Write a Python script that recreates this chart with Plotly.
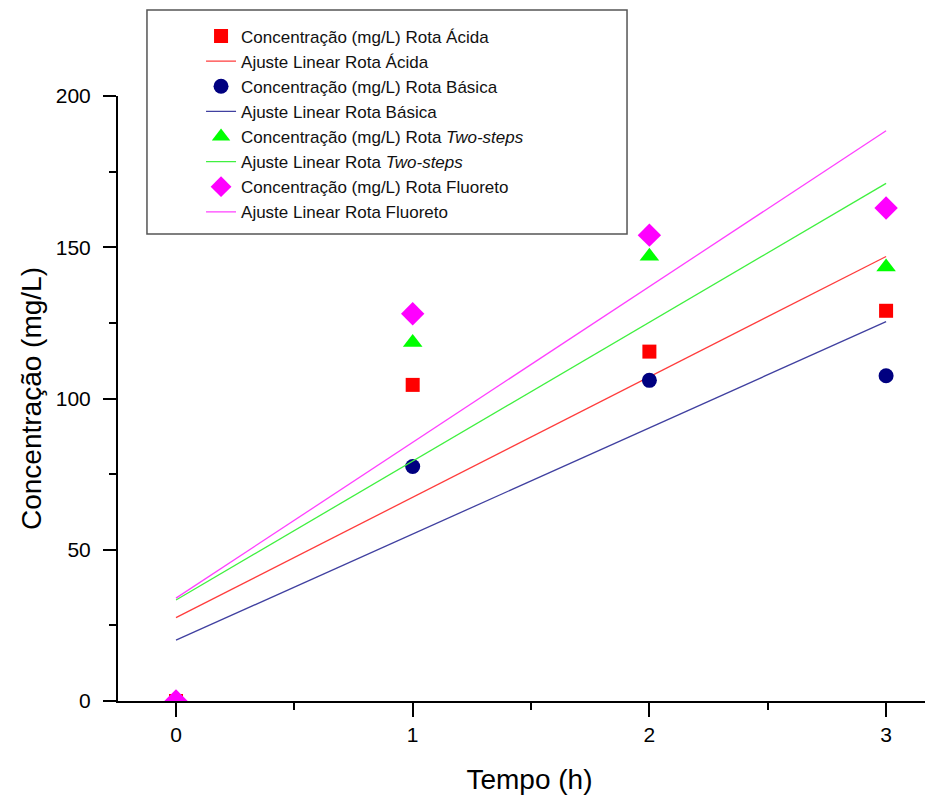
import numpy as np
import plotly.graph_objects as go

tempo = [0, 1, 2, 3]
acida = [0, 104.5, 115.5, 129.0]
basica = [0, 77.5, 106.0, 107.5]
two_steps = [0, 118.5, 147.0, 143.5]
fluoreto = [0, 128.0, 154.0, 163.0]

series = [
    ("Rota Ácida", acida, "#FF0000", "#FF3C3C", "square", 14),
    ("Rota Básica", basica, "#000080", "#4040A0", "circle", 15),
    ("Rota <i>Two-steps</i>", two_steps, "#00FF00", "#40F040", "triangle-up", 17),
    ("Rota Fluoreto", fluoreto, "#FF00FF", "#FF40FF", "diamond", 18),
]

fig = go.Figure()
x = np.array(tempo, dtype=float)
for name, vals, mcol, lcol, sym, sz in series:
    fig.add_trace(go.Scatter(
        x=tempo, y=vals, mode="markers",
        name="Concentração (mg/L) " + name,
        marker=dict(symbol=sym, size=sz, color=mcol, line=dict(width=0)),
    ))
    slope, intercept = np.polyfit(x, np.array(vals, dtype=float), 1)
    xf = [tempo[0], tempo[-1]]
    yf = [intercept + slope * xf[0], intercept + slope * xf[1]]
    fig.add_trace(go.Scatter(
        x=xf, y=yf, mode="lines",
        name="Ajuste Linear " + name,
        line=dict(color=lcol, width=1.3),
    ))

font_family = "Arial, Liberation Sans, sans-serif"

# legend frame (page body has an 8px offset; plot area spans 118..941 x 96..701 on screen)
fig.add_shape(type="rect", xref="paper", yref="paper",
              x0=0.0352, x1=0.6185, y0=0.7719, y1=1.1421,
              line=dict(color="#555555", width=1.5), fillcolor="white", layer="below")

fig.update_layout(
    width=933, height=797,
    margin=dict(l=110, r=0, t=88, b=104),
    paper_bgcolor="white", plot_bgcolor="white",
    font=dict(family=font_family, color="black"),
    showlegend=True,
    legend=dict(
        x=0.1009, y=1.128, xanchor="left", yanchor="top",
        bgcolor="rgba(0,0,0,0)", borderwidth=0,
        font=dict(size=17, family=font_family, color="#111111"),
        tracegroupgap=0, itemsizing="trace",
    ),
    xaxis=dict(
        range=[-0.245, 3.232], tickmode="array", tickvals=tempo,
        ticktext=[str(t) for t in tempo],
        ticks="outside", ticklen=14, tickwidth=2, tickcolor="black",
        showline=True, linecolor="black", linewidth=2,
        showgrid=False, zeroline=False,
        tickfont=dict(size=21),
        minor=dict(dtick=0.5, tick0=0.5, ticks="outside", ticklen=7, tickwidth=2, tickcolor="black", showgrid=False),
        title=dict(text="Tempo (h)", font=dict(size=28), standoff=24),
    ),
    yaxis=dict(
        range=[0, 200], tickmode="array", tickvals=[0, 50, 100, 150, 200],
        ticks="outside", ticklen=13, tickwidth=2, tickcolor="black",
        showline=True, linecolor="black", linewidth=2,
        showgrid=False, zeroline=False,
        tickfont=dict(size=21), ticklabelstandoff=8,
        minor=dict(dtick=25, tick0=0, ticks="outside", ticklen=7, tickwidth=2, tickcolor="black", showgrid=False),
        title=dict(text="Concentração (mg/L)", font=dict(size=28), standoff=6),
    ),
)

fig.write_html("out.html")
